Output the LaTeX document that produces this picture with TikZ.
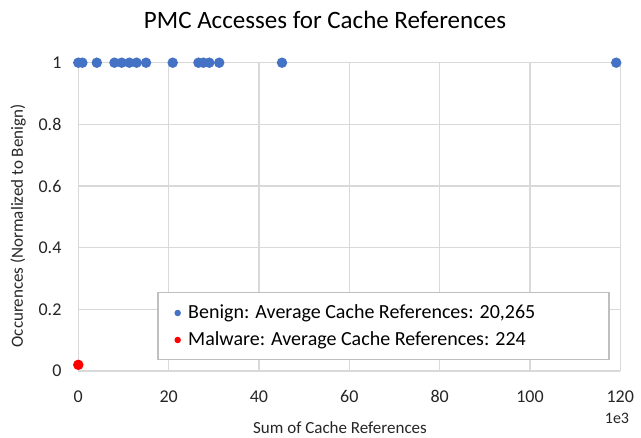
\documentclass[tikz,border=0pt]{standalone}
\usepackage{fontspec}
\setmainfont{Carlito}
\definecolor{gridc}{HTML}{D9D9D9}
\definecolor{benign}{HTML}{4472C4}
\definecolor{txt}{HTML}{262626}
\definecolor{legb}{HTML}{BFBFBF}
\tikzset{
  gridline/.style={draw=gridc, line width=1.3pt},
  bdot/.style={circle, fill=benign, inner sep=0pt, minimum size=10.5pt},
  rdot/.style={circle, fill=red, inner sep=0pt, minimum size=10.5pt},
  ldot/.style={circle, inner sep=0pt, minimum size=6.5pt},
  ticklab/.style={text=txt, font=\fontsize{18}{20}\selectfont, inner sep=0pt},
  axtitle/.style={text=txt, font=\fontsize{17}{19}\selectfont, inner sep=0pt},
  legtext/.style={text=black, font=\fontsize{20}{22}\selectfont, inner sep=0pt, anchor=west},
}
\begin{document}
\begin{tikzpicture}[x=1pt,y=-1pt]
\useasboundingbox[fill=white] (0,0) rectangle (641,438);
\node[text=black, font=\fontsize{25}{27}\selectfont, inner sep=0pt] (title) at (325,20) {PMC Accesses for Cache References};
\begin{scope}[shift={(78.3,371)}, x=4.5167pt, y=308.3pt]
  \foreach \v in {0,20,...,120} {\draw[gridline] (\v,0) -- (\v,1);}
  \foreach \v in {0,0.2,...,1.01} {\draw[gridline] (0,\v) -- (120,\v);}
  \foreach \v/\l in {0/0,20/20,40/40,60/60,80/80,100/100,120/120}
    {\node[ticklab] (xt\v) at (\v,-0.083) {\l};}
  \foreach \v/\l in {0/0,0.2/0.2,0.4/0.4,0.6/0.6,0.8/0.8,1/1}
    {\node[ticklab, anchor=east] (yt\l) at (-3.7,\v) {\l};}
  \foreach \v [count=\i] in {0,0.9,4.1,8,9.6,11.3,12.9,15,20.9,26.6,27.7,29,31.2,45.1,119.1}
    {\node[bdot] (b\i) at (\v,1) {};}
  \node[rdot] (m1) at (0,0.02) {};
\end{scope}
\node[text=txt, font=\fontsize{16}{18}\selectfont, inner sep=0pt] (e3) at (617,418) {1e3};
\node[axtitle] (xtitle) at (340,428) {Sum of Cache References};
\node[axtitle, rotate=90] (ytitle) at (18,226) {Occurences (Normalized to Benign)};
\draw[draw=legb, fill=white, line width=1.3pt] (158,292.7) rectangle (609,359.3);
\node[ldot, fill=benign] (lb) at (177.7,313) {};
\node[ldot, fill=red] (lm) at (177.7,340) {};
\node[legtext] (tb) at (188,313) {Benign: Average Cache References: 20,265};
\node[legtext] (tm) at (188,340) {Malware: Average Cache References: 224};
\end{tikzpicture}
\end{document}
